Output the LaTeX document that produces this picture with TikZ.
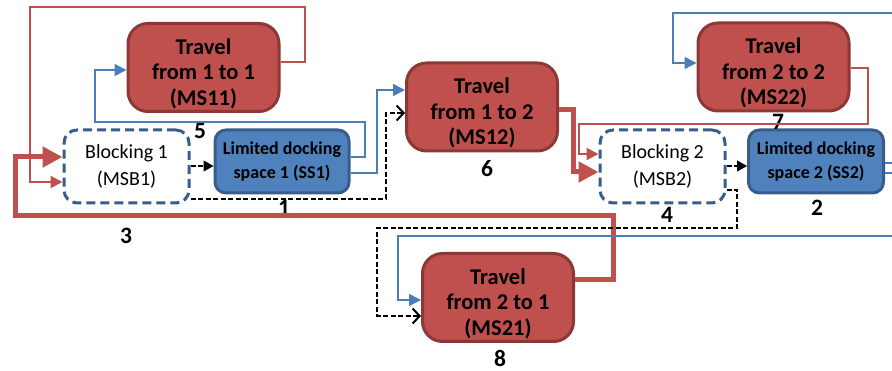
\documentclass[tikz,border=0pt]{standalone}
\usepackage{fontspec}
\setmainfont{Carlito}
\usetikzlibrary{arrows.meta}
\definecolor{redfill}{HTML}{C0504D}
\definecolor{redborder}{HTML}{8C3836}
\definecolor{bluefill}{HTML}{4F81BD}
\definecolor{blueborder}{HTML}{385D8A}
\definecolor{blueline}{HTML}{4A7EBB}
\newcommand\mytopstrut{\rule{0pt}{28pt}}
\tikzset{
  travel/.style={draw=redborder, fill=redfill, line width=3pt, rounded corners=20pt,
    minimum width=151pt, minimum height=88pt, inner sep=0pt, align=center,
    font=\fontsize{22.5}{25.5}\selectfont\bfseries},
  blockbox/.style={draw=blueborder, fill=white, line width=3pt, rounded corners=13pt,
    dash pattern=on 9pt off 5pt, minimum width=125pt, minimum height=73pt,
    inner sep=0pt, align=center, font=\fontsize{20}{27}\selectfont},
  dockbox/.style={draw=blueborder, fill=bluefill, line width=3pt, rounded corners=11pt,
    minimum width=134pt, minimum height=63pt, inner sep=0pt, align=center,
    font=\fontsize{18}{24}\selectfont\bfseries},
  numlabel/.style={font=\fontsize{23.5}{24}\selectfont\bfseries, inner sep=0pt},
  bluearrow/.style={draw=blueline, line width=1.5pt, -{Triangle[length=12pt,width=12pt]}},
  redthin/.style={draw=redfill, line width=2.2pt, -{Triangle[length=12pt,width=12pt]}},
  redthick/.style={draw=redfill, line width=5pt, -{Triangle[length=20pt,width=20pt]}},
  blackdash/.style={draw=black, line width=1.3pt, dash pattern=on 5pt off 2.5pt},
  dashtri/.style={blackdash, -{Triangle[length=10pt,width=11pt]}},
  dashopen/.style={blackdash, -{Straight Barb[length=7pt,width=15pt,line width=2pt]}},
}
\begin{document}
\begin{tikzpicture}[x=1pt,y=-1pt]
\useasboundingbox (0,0) rectangle (892,371);
% nodes
\node[travel] (ms11) at (203.5,67.5) {\mytopstrut Travel\\from 1 to 1\\(MS11)};
\node[blockbox] (msb1) at (126.5,166.5) {Blocking 1\\(MSB1)};
\node[dockbox] (ss1) at (282,161.5) {Limited docking\\space 1 (SS1)};
\node[travel] (ms12) at (482,107) {\mytopstrut Travel\\from 1 to 2\\(MS12)};
\node[blockbox] (msb2) at (662.5,166.5) {Blocking 2\\(MSB2)};
\node[dockbox, minimum width=135pt] (ss2) at (816,161.5) {Limited docking\\space 2 (SS2)};
\node[travel] (ms22) at (773.5,67) {\mytopstrut Travel\\from 2 to 2\\(MS22)};
\node[travel] (ms21) at (498,297.5) {\mytopstrut Travel\\from 2 to 1\\(MS21)};
% number labels
\node[numlabel] (n5) at (200,131) {5};
\node[numlabel] (n1) at (284,208) {1};
\node[numlabel] (n3) at (126,236) {3};
\node[numlabel] (n6) at (487,169) {6};
\node[numlabel] (n7) at (778,122) {7};
\node[numlabel] (n4) at (667,215) {4};
\node[numlabel] (n2) at (817,208) {2};
\node[numlabel] (n8) at (500,358) {8};
% connectors
\draw[redthin] (ms11.east |- 0,62) -| (305,7) -| (30,182) -- (msb1.west |- 0,182);
\draw[redthick] (ms21.east |- 0,280) -| (613,216) -| (15,157) -- (msb1.west |- 0,157);
\draw[redthick] (ms12.east |- 0,110) -| (573,172) -- (msb2.west |- 0,172);
\draw[redthin] (ms22.east |- 0,68) -| (868,124) -| (579,154) -- (msb2.west |- 0,154);
\draw[dashtri] (msb1.east |- 0,166) -- (ss1.west |- 0,166);
\draw[dashopen] (msb1.east |- 0,199) -| (386,113) -- (ms12.west |- 0,113);
\draw[bluearrow] (ss1.east |- 0,157) -| (365,122) -| (95,70) -- (ms11.west |- 0,70);
\draw[bluearrow] (ss1.east |- 0,173) -| (377,90) -- (ms12.west |- 0,90);
\draw[dashtri] (msb2.east |- 0,166) -- (ss2.west |- 0,166);
\draw[dashopen] (msb2.east |- 0,190) -| (737,228) -| (377,316) -- (ms21.west |- 0,316);
\draw[bluearrow] (ss2.east |- 0,163) -| (898,13) -| (673,63) -- (ms22.west |- 0,63);
\draw[bluearrow] (ss2.east |- 0,173) -| (898,236) -| (398,300) -- (ms21.west |- 0,300);
\end{tikzpicture}
\end{document}
